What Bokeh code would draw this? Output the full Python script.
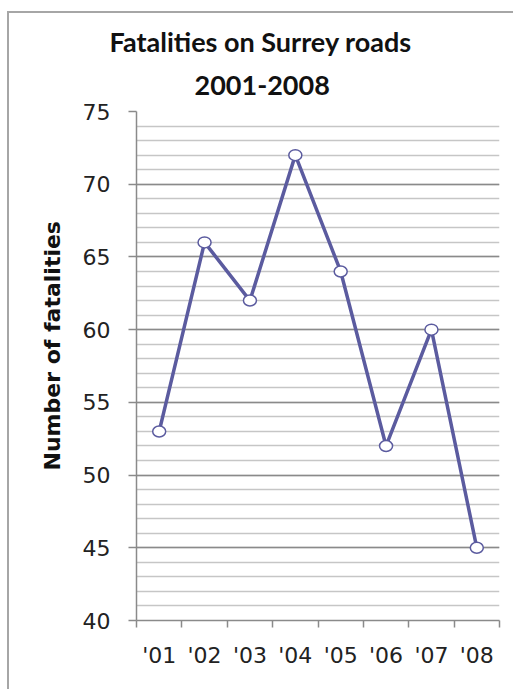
from bokeh.plotting import figure
from bokeh.models import (Range1d, LinearAxis, FixedTicker,
                          SingleIntervalTicker, Title)
from bokeh.embed import file_html
from bokeh.resources import INLINE

# Road fatalities per year
years = ["'01", "'02", "'03", "'04", "'05", "'06", "'07", "'08"]
fatalities = [53, 66, 62, 72, 64, 52, 60, 45]

title_lines = ["Fatalities on Surrey roads", "2001-2008"]
y_title = "Number of fatalities"
y_start, y_end, y_step = 40, 75, 5

LINE = "#5b5b9f"
AXIS = "#8a8a8a"
MINOR = "#c6c6c6"
TICK_FONT = "DejaVu Sans"

# each year occupies one unit slot; points sit in the slot centre
n = len(years)
centres = [i + 0.5 for i in range(n)]

p = figure(
    width=506, height=678,
    x_range=Range1d(0, n),
    y_range=Range1d(y_start, y_end),
    x_axis_location=None, y_axis_location="left",
    output_backend="svg", toolbar_location=None,
    min_border_left=127, min_border_right=16,
    min_border_top=98, min_border_bottom=71,
    outline_line_color=None,
    background_fill_color="white", border_fill_color="white",
)
# chart-area border (left and top edges visible in the window)
p.styles = {
    "margin-left": "7px", "margin-top": "11px",
    "border-left": "2px solid #a6a6a6", "border-top": "2px solid #a6a6a6",
}
p.xgrid.visible = False

# y axis and horizontal gridlines
yticker = SingleIntervalTicker(interval=y_step, num_minor_ticks=5)
p.yaxis.ticker = yticker
p.ygrid.ticker = yticker
p.ygrid.grid_line_color = AXIS
p.ygrid.grid_line_width = 1.5
p.ygrid.minor_grid_line_color = MINOR
p.ygrid.minor_grid_line_width = 1.5
p.yaxis.axis_line_color = AXIS
p.yaxis.axis_line_width = 1.5
p.yaxis.major_tick_line_color = AXIS
p.yaxis.major_tick_line_width = 1.5
p.yaxis.major_tick_out = 8
p.yaxis.major_tick_in = 0
p.yaxis.minor_tick_line_color = None
p.yaxis.major_label_standoff = 18
p.yaxis.major_label_text_font = TICK_FONT
p.yaxis.major_label_text_font_size = "22px"
p.yaxis.major_label_text_color = "#222222"

# x axis: tick marks on slot boundaries ...
edge_axis = LinearAxis(
    ticker=FixedTicker(ticks=list(range(n + 1))),
    axis_line_color=AXIS, axis_line_width=1.5,
    major_tick_line_color=AXIS, major_tick_line_width=1.5,
    major_tick_out=7, major_tick_in=0,
    minor_tick_line_color=None,
    major_label_overrides={i: "" for i in range(n + 1)},
    major_label_text_font_size="1px",
    major_label_standoff=0,
)
p.add_layout(edge_axis, "below")

# ... and year labels at slot centres
label_axis = LinearAxis(
    ticker=FixedTicker(ticks=centres),
    axis_line_color=None, major_tick_line_color=None,
    minor_tick_line_color=None,
    major_label_overrides={c: y for c, y in zip(centres, years)},
    major_label_standoff=9,
    major_label_text_font=TICK_FONT,
    major_label_text_font_size="22px",
    major_label_text_color="#222222",
)
p.add_layout(label_axis, "below")

# data series
p.line(x=centres, y=fatalities, line_color=LINE, line_width=3.5)
p.ellipse(x=centres, y=fatalities, width=13, height=11,
          width_units="screen", height_units="screen",
          fill_color="white", line_color=LINE, line_width=1.5)

# two-line chart title (second line sits nearest the plot)
for text, offset, standoff in [(title_lines[1], 58, 34), (title_lines[0], -27, -2)]:
    p.add_layout(Title(text=text, align="left", offset=offset, standoff=standoff,
                       text_font="Lato", text_font_style="bold",
                       text_font_size="27px", text_color="#111111"), "above")

# vertical axis title
p.add_layout(Title(text=y_title, align="left", offset=150, standoff=30,
                   text_font=TICK_FONT, text_font_style="bold",
                   text_font_size="22px", text_color="#111111"), "left")

open("out.html", "w").write(file_html(p, INLINE))
